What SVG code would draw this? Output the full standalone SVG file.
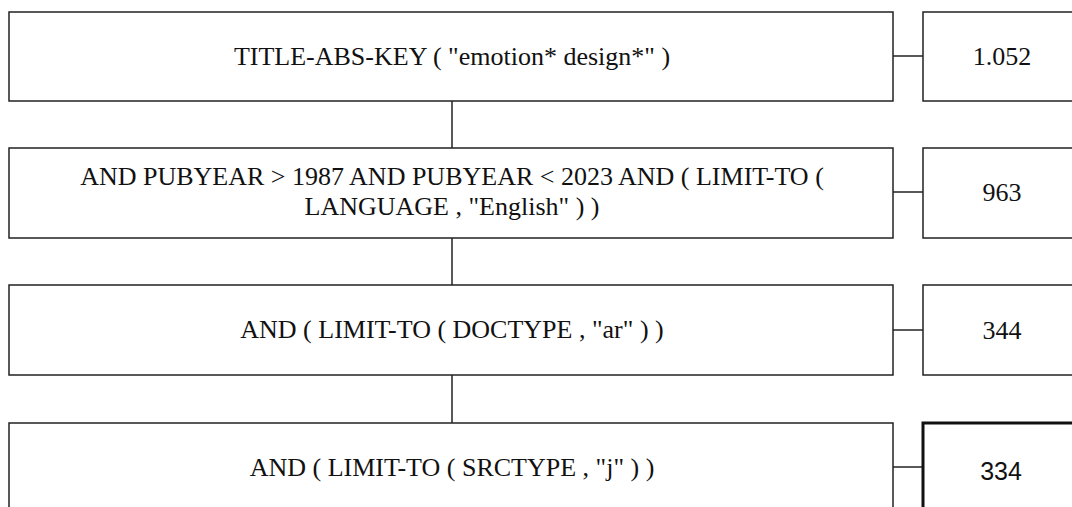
<svg xmlns="http://www.w3.org/2000/svg" width="1072" height="507" viewBox="0 0 1072 507">
<style>
.box{fill:#fff;stroke:#222;stroke-width:1.5}
.bold{fill:#fff;stroke:#111;stroke-width:3}
.t{font-family:"Liberation Serif","Times New Roman",serif;font-size:26px;fill:#111;text-anchor:middle}
.s{font-family:"Liberation Sans",Arial,sans-serif;font-size:25px;fill:#111;text-anchor:middle}
.c{stroke:#222;stroke-width:1.5;fill:none}
</style>
<rect width="1072" height="507" fill="#fff"/>
<g id="connectors">
<line class="c" x1="452" y1="101" x2="452" y2="148"/>
<line class="c" x1="452" y1="238" x2="452" y2="285"/>
<line class="c" x1="452" y1="375" x2="452" y2="423"/>
<line class="c" x1="893" y1="56" x2="923" y2="56"/>
<line class="c" x1="893" y1="192" x2="923" y2="192"/>
<line class="c" x1="893" y1="330" x2="923" y2="330"/>
<line class="c" x1="893" y1="467" x2="923" y2="467"/>
</g>
<g id="q1"><rect class="box" x="9" y="12" width="884" height="89"/><text class="t" x="452" y="65">TITLE-ABS-KEY ( "emotion* design*" )</text></g>
<g id="n1"><rect class="box" x="923" y="12" width="160" height="89"/><text class="t" x="1002" y="65">1.052</text></g>
<g id="q2"><rect class="box" x="9" y="148" width="884" height="90"/><text class="t" x="452" y="185">AND PUBYEAR &gt; 1987 AND PUBYEAR &lt; 2023 AND ( LIMIT-TO (</text><text class="t" x="452" y="215">LANGUAGE , "English" ) )</text></g>
<g id="n2"><rect class="box" x="923" y="148" width="160" height="90"/><text class="t" x="1002" y="201">963</text></g>
<g id="q3"><rect class="box" x="9" y="285" width="884" height="90"/><text class="t" x="452" y="338">AND ( LIMIT-TO ( DOCTYPE , "ar" ) )</text></g>
<g id="n3"><rect class="box" x="923" y="285" width="160" height="90"/><text class="t" x="1002" y="339">344</text></g>
<g id="q4"><rect class="box" x="9" y="423" width="884" height="100"/><text class="t" x="452" y="476">AND ( LIMIT-TO ( SRCTYPE , "j" ) )</text></g>
<g id="n4"><rect class="bold" x="923" y="423" width="160" height="100"/><text class="s" x="1001" y="480">334</text></g>
</svg>
